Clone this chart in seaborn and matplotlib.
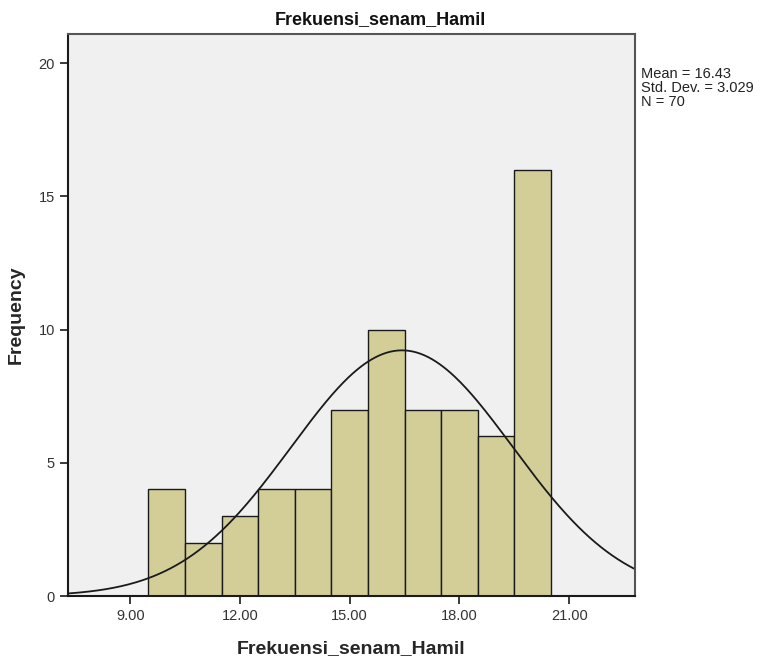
import numpy as np
import pandas as pd
import seaborn as sns
import matplotlib.pyplot as plt

# bin centres (width 1) and counts
centers = [10, 11, 12, 13, 14, 15, 16, 17, 18, 19, 20]
counts = [4, 2, 3, 4, 4, 7, 10, 7, 7, 6, 16]
mean_val = 16.43
std_val = 3.029
n_total = 70
xticks = [9, 12, 15, 18, 21]
yticks = [0, 5, 10, 15, 20]

sns.set_style("white")
plt.rcParams['font.family'] = ['Liberation Sans', 'DejaVu Sans']

fig = plt.figure(figsize=(7.6, 6.66), dpi=100)
ax = fig.add_axes([0.0895, 0.105, 0.746, 0.844])
ax.set_facecolor("#F0F0F0")

df = pd.DataFrame({"value": centers, "count": counts})
sns.histplot(data=df, x="value", weights="count", binwidth=1,
             binrange=(min(centers) - 0.5, max(centers) + 0.5), ax=ax,
             color="#D3CE98", edgecolor="#1a1a1a", linewidth=1.0, alpha=1)

# normal curve scaled to counts
xs = np.linspace(7.3, 22.8, 300)
ys = n_total * 1.0 / (std_val * np.sqrt(2 * np.pi)) * np.exp(-0.5 * ((xs - mean_val) / std_val) ** 2)
sns.lineplot(x=xs, y=ys, ax=ax, color="#1a1a1a", linewidth=1.3)

ax.set_xlim(7.3, 22.8)
ax.set_ylim(0, 21.09)
ax.set_xticks(xticks)
ax.set_xticklabels([f"{t:.2f}" for t in xticks], fontsize=10.5, color="#333333")
ax.set_yticks(yticks)
ax.set_yticklabels([str(t) for t in yticks], fontsize=10.5, color="#333333")
ax.tick_params(axis='both', direction='out', length=6, width=1.2, color="#1a1a1a",
               left=True, bottom=True)

for side in ['left', 'bottom']:
    ax.spines[side].set_color("#1a1a1a")
    ax.spines[side].set_linewidth(1.5)
for side in ['top', 'right']:
    ax.spines[side].set_color("#555555")
    ax.spines[side].set_linewidth(1.5)

ax.set_xlabel("Frekuensi_senam_Hamil", fontsize=14, fontweight='bold', labelpad=12)
ax.set_ylabel("Frequency", fontsize=14, fontweight='bold', labelpad=10)
fig.text(0.5, 0.97, "Frekuensi_senam_Hamil", fontsize=13, fontweight='bold',
         ha='center', va='center', color="#111111")

fig.text(0.843, 0.899, f"Mean = {mean_val:.2f}\nStd. Dev. = {std_val:.3f}\nN = {n_total}",
         fontsize=10.5, va='top', ha='left', linespacing=1.0, color="#222222")

fig.savefig("out.png", dpi=100)
